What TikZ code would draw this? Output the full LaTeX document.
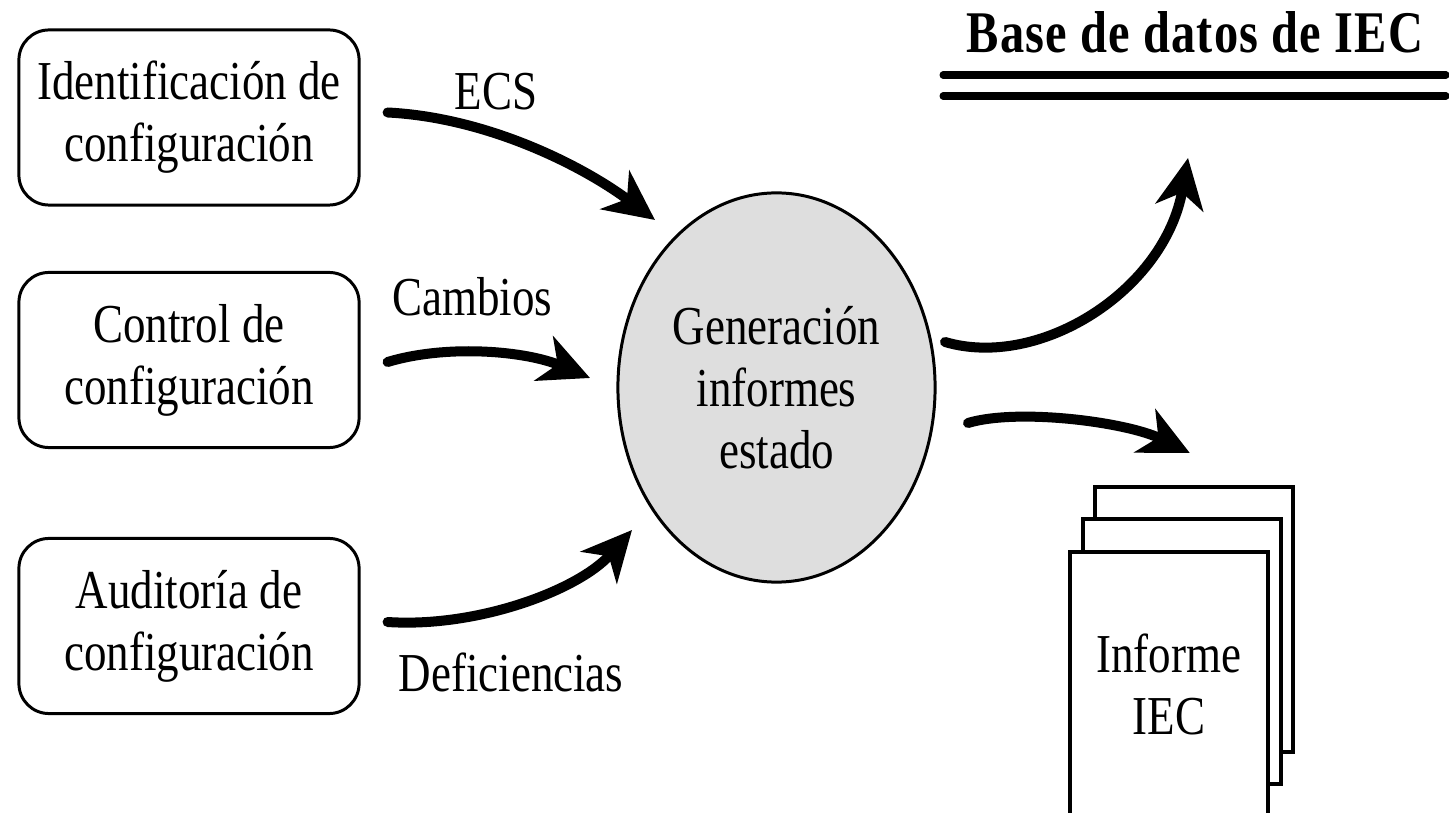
\documentclass[tikz,border=0pt]{standalone}
\usepackage{fontspec}
\usetikzlibrary{arrows.meta,shapes.geometric}
\newfontfamily\figfont[FakeStretch=0.82]{Liberation Serif}
\newfontfamily\titlefont[FakeStretch=0.82,LetterSpace=2]{Liberation Serif}
\definecolor{genfill}{gray}{0.87}

\begin{document}
\begin{tikzpicture}
[x=0.01cm,y=-0.01cm,%
  textdecorate/.style={font=\figfont\fontsize{15.6}{17.6}\selectfont,align=center},%
  boxdecorate/.style={shape=rectangle,rounded corners=0.3cm,draw,line width=0.85pt,%
    minimum width=3.4cm,minimum height=1.75cm,textdecorate},%
  gendecorate/.style={shape=ellipse,draw,fill=genfill,line width=0.85pt,%
    minimum width=3.17cm,minimum height=3.89cm,inner sep=0pt,textdecorate},%
  docdecorate/.style={shape=rectangle,anchor=north west,draw,fill=white,line width=1pt,%
    minimum width=1.98cm,minimum height=2.65cm,textdecorate},%
  titledecorate/.style={font=\titlefont\bfseries\fontsize{16.8}{20}\selectfont},%
  dbdecorate/.style={line width=2pt,line cap=round},%
  arrowdecorate/.style={-{Stealth[length=0.5cm,width=0.48cm,inset=0.15cm]},line width=1mm,line cap=round}]
%% frame of the picture
\useasboundingbox (0,0) rectangle (1449,813);
%% source boxes on the left
\foreach \nodename/\y/\txt in {
ident/117.5/{Identificación de\\configuración},
ctrl/360/{Control de\\configuración},
audit/626/{Auditoría de\\configuración}}
{
  \node (\nodename) at (189,\y) [boxdecorate] {\txt};
}
%% status report generation
\node (gen) at (776.5,387.5) [gendecorate] {Generación\\informes\\estado};
%% database
\node (db) at (1195,32) [titledecorate] {Base de datos de IEC};
\draw[dbdecorate] (943,75) -- (1446,75);
\draw[dbdecorate] (943,96) -- (1446,96);
%% stack of reports
\foreach \nodename/\x/\y in {docback/1093/485, docmid/1081/517}
{
  \node (\nodename) at (\x,\y) [docdecorate] {};
}
\node (doc) at (1068,550) [docdecorate] {Informe\\IEC};
%% labels of the flows
\node (ecs) at (496,92) [textdecorate] {ECS};
\node (cambios) at (472,297) [textdecorate] {Cambios};
\node (defic) at (511,672) [textdecorate] {Deficiencias};
%% flows
\draw[arrowdecorate] ([shift={(27,-5)}]ident.east)
  .. controls +(100,5) and +(-72,-54) .. ([shift={(-121.5,-167.5)}]gen.center);
\draw[arrowdecorate] ([shift={(27,2)}]ctrl.east)
  .. controls +(60,-18) and +(-64,-27) .. ([shift={(-186.5,-9.5)}]gen.center);
\draw[arrowdecorate] ([shift={(27,-4)}]audit.east)
  .. controls +(90,6) and +(-53,60) .. ([shift={(-144.5,142.5)}]gen.center);
\draw[arrowdecorate] ([shift={(168.5,-45.5)}]gen.center)
  .. controls +(95,28) and +(-23,132) .. ([shift={(-7,126)}]db.center);
\draw[arrowdecorate] ([shift={(191.5,35.5)}]gen.center)
  .. controls +(50,-15) and +(-63,-31) .. ([shift={(-4,-32)}]docback.north);
\end{tikzpicture}
\end{document}
